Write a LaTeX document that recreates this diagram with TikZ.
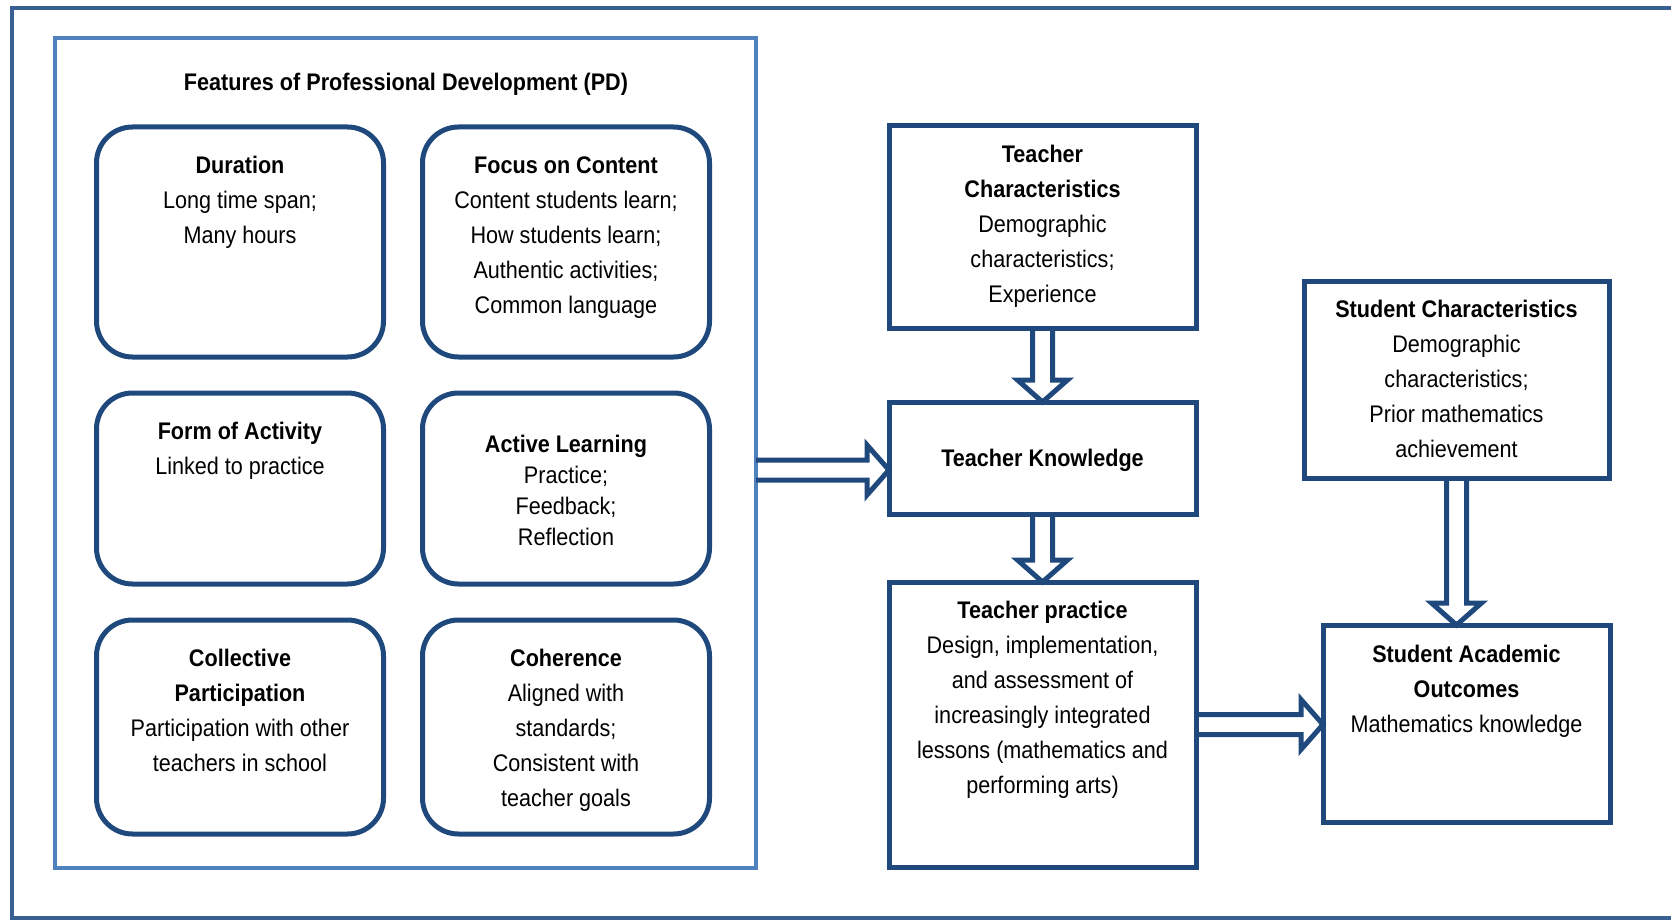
\documentclass[tikz,border=0pt]{standalone}
\usepackage{fontspec}
\setmainfont{Liberation Sans}[FakeStretch=0.9]
\usetikzlibrary{calc}
\usetikzlibrary{positioning}

\definecolor{navy}{RGB}{31,73,125}
\definecolor{frameblue}{RGB}{58,96,146}
\definecolor{pdblue}{RGB}{79,129,189}

% hollow block arrow from #1 to #2
\newcommand{\hollowarrow}[2]{%
  \coordinate (neck) at ($(#2)!11pt!(#1)$);
  \draw[hollow] ($(#1)!5pt!90:(#2)$) -- ($(neck)!5pt!90:(#2)$) -- ($(neck)!12.5pt!90:(#2)$) -- (#2)
    -- ($(neck)!12.5pt!-90:(#2)$) -- ($(neck)!5pt!-90:(#2)$) -- ($(#1)!5pt!-90:(#2)$);
}

\begin{document}
\begin{tikzpicture}[
    x=0.5pt, y=-0.5pt,
    font={\fontsize{12pt}{17.5pt}\selectfont},
    pdbox/.style={draw=navy, line width=2.5pt, rounded corners=18pt, minimum width=143.5pt, inner sep=0pt, outer sep=0pt},
    sqbox/.style={draw=navy, line width=2.5pt, inner sep=0pt, outer sep=0pt},
    txt/.style={align=center, anchor=north, inner sep=0pt, execute at begin node=\rule{0pt}{10pt}},
    hollow/.style={draw=navy, line width=2.5pt, line join=miter},
 ]
    \useasboundingbox (0,0) rectangle (1671,920);
    \draw[frameblue, line width=2pt] (12,8) rectangle (1700,918);

    % features of PD
    \node[draw=pdblue, line width=2pt, minimum width=350.5pt, minimum height=415pt, inner sep=0pt, outer sep=0pt] (pd) at (405.5,453) {};
    \node[anchor=base, inner sep=0pt] (pdtitle) at (406,91) {\textbf{Features of Professional Development (PD)}};

    \node[pdbox, minimum height=115pt] (dur) at (240,242) {};
    \node[pdbox, minimum height=115pt] (foc) at (566,242) {};
    \node[pdbox, minimum height=95.5pt] (form) at (240,488.5) {};
    \node[pdbox, minimum height=95.5pt] (act) at (566,488.5) {};
    \node[pdbox, minimum height=107pt] (coll) at (240,727) {};
    \node[pdbox, minimum height=107pt] (coh) at (566,727) {};

    \node[txt] (durtxt) at ([yshift=-14.5pt]dur.north) {\textbf{Duration}\\Long time span;\\Many hours};
    \node[txt] (foctxt) at ([yshift=-14.5pt]foc.north) {\textbf{Focus on Content}\\Content students learn;\\How students learn;\\Authentic activities;\\Common language};
    \node[txt] (formtxt) at ([yshift=-14.5pt]form.north) {\textbf{Form of Activity}\\Linked to practice};
    \node[txt, font={\fontsize{12pt}{15.5pt}\selectfont}] (acttxt) at ([yshift=-21pt]act.north) {\textbf{Active Learning}\\Practice;\\Feedback;\\Reflection};
    \node[txt] (colltxt) at ([yshift=-14.5pt]coll.north) {\textbf{Collective}\\\textbf{Participation}\\Participation with other\\teachers in school};
    \node[txt] (cohtxt) at ([yshift=-14.5pt]coh.north) {\textbf{Coherence}\\Aligned with\\standards;\\Consistent with\\teacher goals};

    % teacher and student boxes
    \node[sqbox, minimum width=153.5pt, minimum height=101pt] (tc) at (1042.5,227) {};
    \node[sqbox, minimum width=153.5pt, minimum height=56pt, text depth=0pt] (tk) at (1042.5,458) {\textbf{Teacher Knowledge}};
    \node[sqbox, minimum width=153.5pt, minimum height=142.5pt] (tp) at (1042.5,724.5) {};
    \node[sqbox, minimum width=152.5pt, minimum height=98.5pt] (sc) at (1456.5,379.5) {};
    \node[sqbox, minimum width=143.5pt, minimum height=98.5pt] (so) at (1466.5,723.5) {};

    \node[txt] (tctxt) at ([yshift=-9.5pt]tc.north) {\textbf{Teacher}\\\textbf{Characteristics}\\Demographic\\characteristics;\\Experience};
    \node[txt] (tptxt) at ([yshift=-9.5pt]tp.north) {\textbf{Teacher practice}\\Design, implementation,\\and assessment of\\increasingly integrated\\lessons (mathematics and\\performing arts)};
    \node[txt] (sctxt) at ([yshift=-9.5pt]sc.north) {\textbf{Student Characteristics}\\Demographic\\characteristics;\\Prior mathematics\\achievement};
    \node[txt] (sotxt) at ([yshift=-10pt]so.north) {\textbf{Student Academic}\\\textbf{Outcomes}\\Mathematics knowledge};

    % arrows
    \coordinate (pdout) at (pd.east |- 0,470);
    \coordinate (tkin) at (tk.west |- pdout);
    \coordinate (soin) at (sc.south |- so.north);
    \coordinate (sofrom) at (so.west |- tp.east);
    \hollowarrow{pdout}{tkin}
    \hollowarrow{tc.south}{tk.north}
    \hollowarrow{tk.south}{tp.north}
    \hollowarrow{sc.south}{soin}
    \hollowarrow{tp.east}{sofrom}
\end{tikzpicture}
\end{document}
